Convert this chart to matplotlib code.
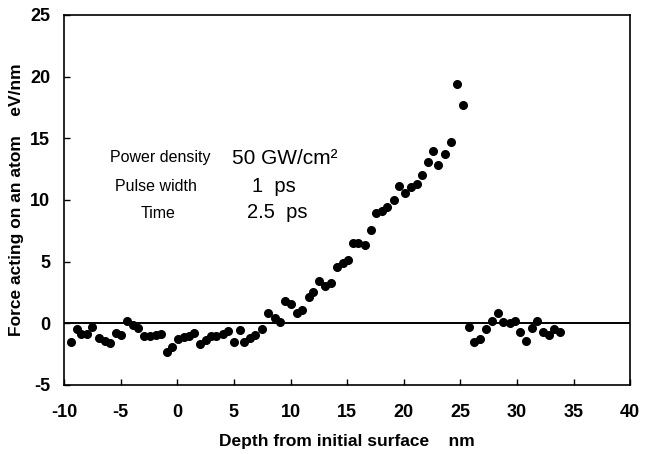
import numpy as np
import matplotlib.pyplot as plt

# =========================
# DATA
# =========================
depth = [-9.4, -8.9, -8.5, -8.0, -7.5, -6.9, -6.4, -5.9, -5.4, -4.95,
         -4.4, -3.95, -3.5, -2.9, -2.4, -1.9, -1.45, -0.95, -0.45, 0.05,
         0.55, 1.0, 1.5, 2.0, 2.5, 3.0, 3.45, 4.0, 4.5, 5.0,
         5.5, 5.9, 6.4, 6.9, 7.45, 8.05, 8.6, 9.1, 9.5, 10.0,
         10.55, 11.05, 11.6, 12.0, 12.55, 13.05, 13.55, 14.1, 14.6, 15.1,
         15.55, 16.0, 16.6, 17.1, 17.55, 18.05, 18.55, 19.1, 19.6, 20.1,
         20.6, 21.15, 21.6, 22.1, 22.6, 23.05, 23.65, 24.15, 24.7, 25.2,
         25.8, 26.2, 26.7, 27.3, 27.8, 28.3, 28.75, 29.35, 29.8, 30.3,
         30.8, 31.3, 31.8, 32.3, 32.8, 33.3, 33.8]
force = [-1.5, -0.5, -0.9, -0.9, -0.3, -1.2, -1.4, -1.6, -0.8, -0.95,
         0.15, -0.1, -0.4, -1.0, -1.0, -0.95, -0.85, -2.3, -1.9, -1.3,
         -1.1, -1.05, -0.8, -1.65, -1.35, -1.0, -1.0, -0.85, -0.6, -1.5,
         -0.55, -1.5, -1.15, -0.95, -0.5, 0.85, 0.4, 0.1, 1.85, 1.6,
         0.85, 1.05, 2.1, 2.5, 3.4, 3.0, 3.25, 4.6, 4.9, 5.15,
         6.5, 6.5, 6.35, 7.6, 8.95, 9.1, 9.4, 10.0, 11.1, 10.55,
         11.05, 11.3, 12.0, 13.1, 14.0, 12.8, 13.7, 14.7, 19.4, 17.7,
         -0.3, -1.5, -1.3, -0.5, 0.2, 0.85, 0.1, 0.0, 0.2, -0.7,
         -1.4, -0.35, 0.15, -0.7, -0.95, -0.5, -0.7]

xticks = [-10, -5, 0, 5, 10, 15, 20, 25, 30, 35, 40]
yticks = [-5, 0, 5, 10, 15, 20, 25]

plt.rcParams['font.family'] = ['Liberation Sans', 'DejaVu Sans']
plt.rcParams['axes.unicode_minus'] = False

fig = plt.figure(figsize=(6.47, 4.54), dpi=100)
ax = fig.add_axes([0.099, 0.152, 0.875, 0.815])

ax.axhline(0, color='black', lw=1.4, zorder=1)
ax.plot(depth, force, 'o', color='black', markersize=5.5, zorder=2)

ax.set_xlim(-10, 40)
ax.set_ylim(-5, 25)
ax.set_xticks(xticks)
ax.set_yticks(yticks)
ax.tick_params(direction='in', length=4, width=1.0, labelsize=13)
ax.tick_params(axis='x', pad=14)
ax.tick_params(axis='y', pad=10)
for lab in ax.get_xticklabels() + ax.get_yticklabels():
    lab.set_fontweight('bold')
for sp in ax.spines.values():
    sp.set_linewidth(1.2)

ax.set_xlabel("Depth from initial surface    nm", fontsize=12.5, fontweight='bold', labelpad=9)
ax.set_ylabel("Force acting on an atom    eV/nm", fontsize=12.5, fontweight='bold', labelpad=4)

# annotation block
ax.text(-1.5, 13.45, "Power density", fontsize=11.5, ha='center', va='center')
ax.text(4.8, 13.4, "50 GW/cm²", fontsize=15, ha='left', va='center')
ax.text(-1.9, 11.1, "Pulse width", fontsize=11.5, ha='center', va='center')
ax.text(6.6, 11.1, "1  ps", fontsize=14.5, ha='left', va='center')
ax.text(-1.7, 8.9, "Time", fontsize=11.5, ha='center', va='center')
ax.text(6.2, 8.95, "2.5  ps", fontsize=14.5, ha='left', va='center')

fig.savefig("out.png", dpi=100)
